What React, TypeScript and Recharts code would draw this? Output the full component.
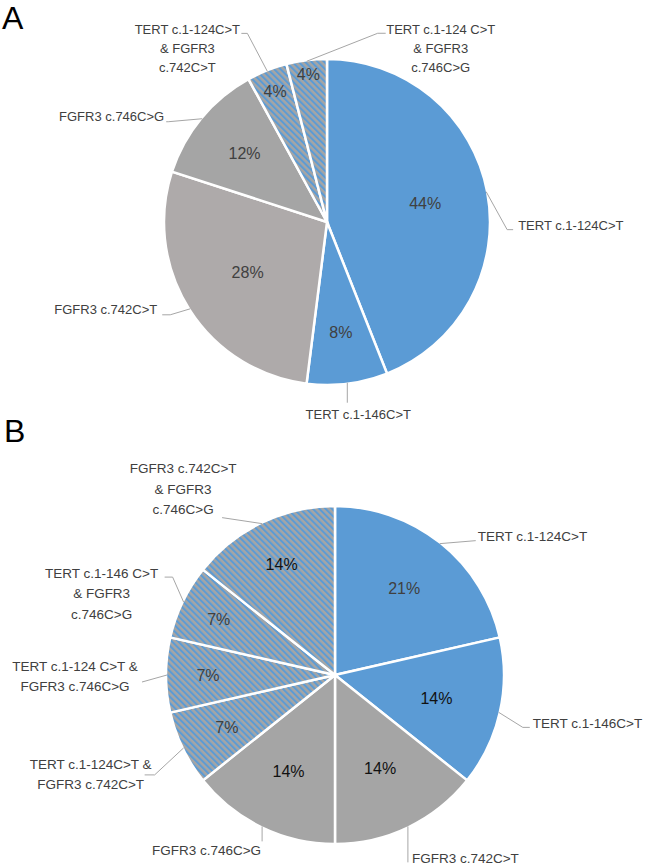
import { PieChart, Pie, Cell } from "recharts";

// panel A
const panelANames = [
  "TERT c.1-124C>T",
  "TERT c.1-146C>T",
  "FGFR3 c.742C>T",
  "FGFR3 c.746C>G",
  "TERT c.1-124C>T\n& FGFR3\nc.742C>T",
  "TERT c.1-124 C>T\n& FGFR3\nc.746C>G",
];
const panelACounts = [11, 2, 7, 3, 1, 1];

// panel B
const panelBNames = [
  "TERT c.1-124C>T",
  "TERT c.1-146C>T",
  "FGFR3 c.742C>T",
  "FGFR3 c.746C>G",
  "TERT c.1-124C>T &\nFGFR3 c.742C>T",
  "TERT c.1-124 C>T &\nFGFR3 c.746C>G",
  "TERT c.1-146 C>T\n& FGFR3\nc.746C>G",
  "FGFR3 c.742C>T\n& FGFR3\nc.746C>G",
];
const panelBCounts = [3, 2, 2, 2, 1, 1, 1, 2];

const BLUE = "#5B9BD5";
const GRAY = "#A5A5A5";
const WARM_GRAY = "#AEAAAA";
const HATCH = "url(#hatch)";
const FONT = "'Liberation Sans', Arial, sans-serif";

const fillsA = [BLUE, BLUE, WARM_GRAY, GRAY, HATCH, HATCH];
const fillsB = [BLUE, BLUE, GRAY, GRAY, HATCH, HATCH, HATCH, HATCH];
const pctColorsA = ["#404040", "#404040", "#404040", "#404040", "#404040", "#404040"];
const pctColorsB = ["#404040", "#111", "#111", "#111", "#404040", "#404040", "#404040", "#111"];

type Place = {
  pct: number;
  elbow: [number, number];
  tail: number;
  text: [number, number];
  anchor: "start" | "middle" | "end";
};

// label placement (Excel leader lines), offsets from the slice edge point
const placeA: Place[] = [
  { pct: 100, elbow: [21, 38], tail: 6, text: [11, -4], anchor: "start" },
  { pct: 111, elbow: [0, 20], tail: 0, text: [11, 12], anchor: "middle" },
  { pct: 94, elbow: [-20, 6], tail: -8, text: [-13, -5], anchor: "end" },
  { pct: 107, elbow: [-34, 3], tail: -2, text: [-4, -5], anchor: "end" },
  { pct: 141, elbow: [-20, -38], tail: -6, text: [-60, -4], anchor: "middle" },
  { pct: 149, elbow: [71, -28], tail: 8, text: [63, -4], anchor: "middle" },
];

const placeB: Place[] = [
  { pct: 111, elbow: [36, -3], tail: 0, text: [2, -4], anchor: "start" },
  { pct: 104, elbow: [24, 15], tail: 7, text: [10, -4], anchor: "start" },
  { pct: 104, elbow: [0, 36], tail: 0, text: [4, -4], anchor: "start" },
  { pct: 107, elbow: [0, 15], tail: 0, text: [-1, 9], anchor: "end" },
  { pct: 120, elbow: [-29, 27], tail: -10, text: [-64, -11], anchor: "middle" },
  { pct: 127, elbow: [-25, 7], tail: 0, text: [-67, -16], anchor: "middle" },
  { pct: 129, elbow: [-11, -25], tail: -8, text: [-71, -4], anchor: "middle" },
  { pct: 123, elbow: [-40, -6], tail: 0, text: [-39, -49], anchor: "middle" },
];

const RAD = Math.PI / 180;
const polar = (cx: number, cy: number, r: number, angle: number) => [
  cx + r * Math.cos(-angle * RAD),
  cy + r * Math.sin(-angle * RAD),
];

const makeLabel =
  (place: Place[], pctColors: string[], nameSize: number, gap: number) => (props: any) => {
    const { cx, cy, midAngle, outerRadius, percent, index } = props;
    const name = String(props.name ?? props.payload?.name ?? "");
    const p = place[index];
    const [ex, ey] = polar(cx, cy, outerRadius - 1, midAngle);
    const [px, py] = polar(cx, cy, p.pct, midAngle);
    const bx = ex + p.elbow[0];
    const by = ey + p.elbow[1];
    const tx = bx + p.text[0];
    const ty = by + p.text[1];
    const lines = name.split("\n");
    return (
      <g>
        <text
          x={px}
          y={py + 16 * 0.35}
          textAnchor="middle"
          fontSize={16}
          fontFamily={FONT}
          fill={pctColors[index]}
        >
          {Math.round(percent * 100)}%
        </text>
        <polyline
          points={`${ex},${ey} ${bx},${by} ${bx + p.tail},${by}`}
          fill="none"
          stroke="#A6A6A6"
          strokeWidth={1}
        />
        <text textAnchor={p.anchor} fontSize={nameSize} fontFamily={FONT} fill="#404040">
          {lines.map((s, i) => (
            <tspan key={i} x={tx} y={ty + i * gap + nameSize * 0.35}>
              {s}
            </tspan>
          ))}
        </text>
      </g>
    );
  };

const dataA = panelANames.map((name, i) => ({ name, value: panelACounts[i] }));
const dataB = panelBNames.map((name, i) => ({ name, value: panelBCounts[i] }));

export default function App() {
  return (
    <div
      style={{
        position: "absolute",
        left: 0,
        top: 0,
        width: 646,
        height: 867,
        background: "#fff",
      }}
    >
      <svg width={0} height={0} style={{ position: "absolute" }}>
        <defs>
          <pattern
            id="hatch"
            patternUnits="userSpaceOnUse"
            width={4.5}
            height={4.5}
            patternTransform="rotate(-45)"
          >
            <rect x={0} y={0} width={4.5} height={4.5} fill={GRAY} />
            <rect x={0} y={0} width={2} height={4.5} fill={BLUE} />
          </pattern>
        </defs>
      </svg>

      <PieChart width={646} height={867} margin={{ top: 0, right: 0, bottom: 0, left: 0 }}>
        <Pie
          data={dataA}
          dataKey="value"
          nameKey="name"
          cx={327}
          cy={222}
          outerRadius={163}
          startAngle={90}
          endAngle={-270}
          stroke="#fff"
          strokeWidth={2.5}
          labelLine={false}
          label={makeLabel(placeA, pctColorsA, 13, 19)}
          isAnimationActive={false}
        >
          {dataA.map((d, i) => (
            <Cell key={d.name} fill={fillsA[i]} />
          ))}
        </Pie>
        <Pie
          data={dataB}
          dataKey="value"
          nameKey="name"
          cx={335}
          cy={675}
          outerRadius={169}
          startAngle={90}
          endAngle={-270}
          stroke="#fff"
          strokeWidth={2.5}
          labelLine={false}
          label={makeLabel(placeB, pctColorsB, 13.5, 20.5)}
          isAnimationActive={false}
        >
          {dataB.map((d, i) => (
            <Cell key={d.name} fill={fillsB[i]} />
          ))}
        </Pie>
      </PieChart>

      <svg
        width={646}
        height={867}
        style={{ position: "absolute", left: 0, top: 0, pointerEvents: "none" }}
      >
        <text x={2} y={29} fontSize={32} fontFamily={FONT} fill="#000">
          A
        </text>
        <text x={4} y={442} fontSize={32} fontFamily={FONT} fill="#000">
          B
        </text>
      </svg>
    </div>
  );
}
